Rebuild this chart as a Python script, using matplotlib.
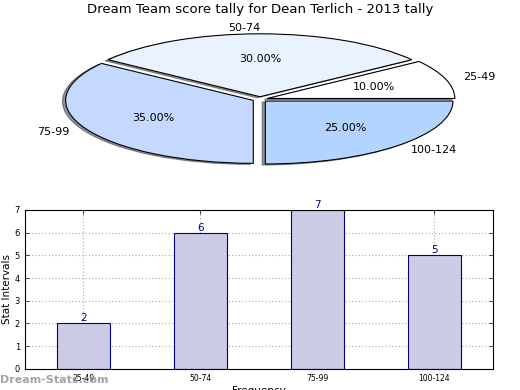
import matplotlib
matplotlib.use("Agg")
import matplotlib.pyplot as plt
import numpy as np

categories = ["25-49", "50-74", "75-99", "100-124"]
counts = [2, 6, 7, 5]
pie_colors = ["#FFFFFF", "#EAF2FF", "#C5D8FF", "#B3D4FF"]
title = "Dream Team score tally for Dean Terlich - 2013 tally"

fig = plt.figure(figsize=(5.2, 3.9), dpi=100)

# Pie chart (flattened, exploded, shadow)
ax1 = fig.add_axes([0.103, 0.568, 0.794, 0.355])
wedges, texts, autotexts = ax1.pie(
    counts, labels=categories, colors=pie_colors, autopct="%1.2f%%",
    explode=[0.04] * len(counts),
    shadow={"ox": -0.012, "oy": -0.012, "shade": 0.8},
    startangle=0,
    wedgeprops=dict(edgecolor="black", linewidth=0.8),
    textprops=dict(fontsize=8))
ax1.set_aspect("auto")
ax1.set_xlim(-1.1, 1.1)
ax1.set_ylim(-1.1, 1.1)
fig.text(0.5, 0.975, title, ha="center", va="center", fontsize=9.5)

# Bar chart
ax2 = fig.add_axes([0.048, 0.054, 0.9, 0.408])
x = np.arange(len(categories))
bars = ax2.bar(x, counts, width=0.45, color="#CCCCE6", edgecolor="#000080",
               linewidth=0.8, zorder=2)
for xi, v in zip(x, counts):
    ax2.text(xi, v, str(v), ha="center", va="bottom", fontsize=7.5,
             color="#000080", zorder=3)
ax2.set_xlim(-0.5, 3.5)
ax2.set_ylim(0, 7)
ax2.set_xticks(x)
ax2.set_xticklabels(categories, fontsize=5.5)
ax2.set_yticks(range(0, 8))
ax2.tick_params(axis="y", labelsize=6)
ax2.tick_params(direction="in", top=True, right=True, length=3, width=0.5)
ax2.grid(True, linestyle=(0, (1, 2)), color="#aaaaaa", linewidth=0.8, zorder=0)
ax2.set_ylabel("Stat Intervals", fontsize=7.5, labelpad=2)
ax2.set_xlabel("Frequency", fontsize=7.5, labelpad=2)
for s in ax2.spines.values():
    s.set_linewidth(0.8)

fig.text(0.0, 0.025, "Dream-Stats.com", fontsize=8, color="#999999",
         fontweight="bold", ha="left", va="center", alpha=0.9)

fig.savefig("out.png", dpi=100)
